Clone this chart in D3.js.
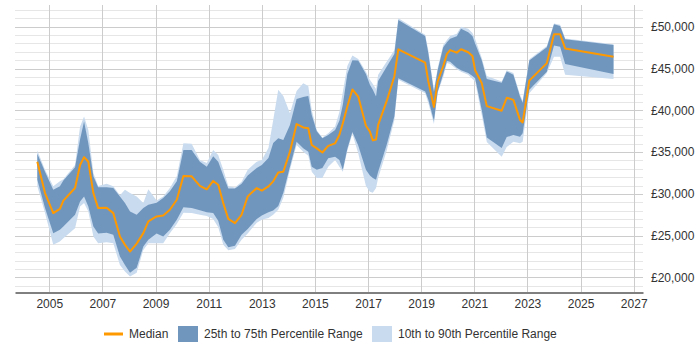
<!DOCTYPE html>
<html lang="en">
<head>
<meta charset="UTF-8">
<title>Salary percentiles</title>
<script src="https://cdn.jsdelivr.net/npm/d3@7/dist/d3.min.js"></script>
<style>
    body { margin: 0; background: #fff; }
    svg { font-family: "Liberation Sans", Arial, sans-serif; }
    .tick text { font-size: 12px; fill: #333; }
</style>
</head>
<body>
<svg id="chart" width="700" height="350"></svg>
<script>
    // decimal years of each sample
    var years = [
        2004.55, 2004.84, 2005.15, 2005.40, 2005.53, 2005.97, 2006.16, 2006.31, 2006.47, 2006.66,
        2006.84, 2007.16, 2007.41, 2007.66, 2007.85, 2008.04, 2008.29, 2008.54, 2008.73, 2009.04,
        2009.29, 2009.54, 2009.80, 2010.05, 2010.36, 2010.67, 2010.93, 2011.17, 2011.36, 2011.55,
        2011.74, 2011.99, 2012.24, 2012.47, 2012.81, 2013.00, 2013.25, 2013.43, 2013.62, 2013.81,
        2014.06, 2014.31, 2014.56, 2014.75, 2014.88, 2015.07, 2015.28, 2015.50, 2015.76, 2015.92,
        2016.05, 2016.22, 2016.41, 2016.63, 2016.92, 2017.07, 2017.18, 2017.30, 2017.38, 2017.70,
        2017.99, 2018.14, 2019.15, 2019.27, 2019.48, 2019.62, 2019.83, 2019.97, 2020.09, 2020.34,
        2020.50, 2020.77, 2020.93, 2021.03, 2021.28, 2021.47, 2022.03, 2022.22, 2022.47, 2022.72,
        2022.82, 2023.07, 2023.73, 2024.00, 2024.23, 2024.42, 2026.24
    ];
    var p90 = [
        35200, 32900, 30900, 31500, 31750, 33450, 38050, 39250, 37650, 32500,
        30950, 31200, 30900, 29850, 30500, 30100, 29700, 28900, 30550, 29200,
        29700, 30700, 32100, 36050, 36000, 34050, 33700, 35250, 34650, 32900,
        30950, 30750, 31450, 32900, 33850, 34050, 35500, 38850, 42450, 41700,
        39650, 42300, 43250, 42900, 40050, 37600, 36750, 37250, 38050, 39800,
        42200, 45300, 46550, 46150, 44600, 43650, 43150, 42550, 44250, 45800,
        47200, 51000, 49050, 47200, 42450, 45050, 47800, 48400, 48900, 49150,
        50000, 49750, 49250, 48550, 46250, 44100, 43450, 44800, 44450, 41850,
        41150, 46100, 47700, 50400, 50250, 48600, 47900
    ];
    var p75 = [
        34800, 32650, 30500, 30900, 31600, 33200, 36550, 38650, 36050, 32100,
        30800, 30800, 30700, 29700, 28900, 27900, 27500, 28300, 28700, 28950,
        29500, 30300, 31500, 35250, 35250, 33850, 33250, 34500, 33850, 32200,
        30650, 30650, 31200, 32200, 33100, 33450, 34300, 36100, 36650, 36450,
        38250, 41350, 41600, 41700, 39450, 37500, 36650, 37050, 37650, 38750,
        40650, 44350, 46000, 45950, 44350, 43050, 42450, 41650, 43500, 45200,
        46750, 50800, 48900, 46800, 42200, 44800, 47550, 48150, 48550, 48850,
        49750, 49350, 48900, 48000, 46000, 43750, 43300, 44650, 44250, 41650,
        40900, 45950, 47550, 50300, 50100, 48500, 47800
    ];
    var median = [
        33850, 30100, 27700, 28200, 29200, 30700, 33450, 34400, 33850, 30100,
        28300, 28350, 27700, 24900, 23900, 23100, 24050, 25300, 26700, 27300,
        27400, 28100, 29300, 32150, 32100, 30950, 30550, 31550, 31100, 28900,
        27000, 26500, 27500, 29700, 30700, 30400, 30900, 31500, 32550, 32650,
        35050, 38350, 37950, 37850, 35850, 35450, 34950, 35750, 36050, 37050,
        38450, 40450, 42500, 41650, 38150, 37450, 36400, 36500, 38250, 41100,
        44050, 47300, 45700, 43450, 40400, 43450, 45300, 46750, 47200, 46900,
        47300, 46950, 46500, 44800, 43250, 40500, 39950, 41500, 41250, 38850,
        38550, 43550, 45650, 49100, 49100, 47400, 46400
    ];
    var p25 = [
        31700, 28300, 25300, 25700, 26100, 27500, 29100, 29700, 28500, 26100,
        25250, 25350, 25100, 22500, 21500, 20550, 21150, 23700, 24500, 25250,
        24900, 25700, 26900, 28400, 28300, 28050, 27800, 27700, 26800, 24500,
        23600, 23800, 25100, 25800, 27000, 27400, 27800, 28000, 28550, 30150,
        33250, 36250, 35450, 35050, 33250, 32900, 33100, 34250, 34450, 34050,
        32900, 35400, 37400, 35800, 32900, 32200, 31900, 31700, 32650, 35850,
        39250, 43850, 42250, 41250, 38750, 42200, 44350, 45900, 45800, 45100,
        44800, 44450, 44100, 43850, 40050, 36750, 35500, 36800, 37050, 36850,
        37250, 42450, 44600, 47750, 47600, 45550, 44350
    ];
    var p10 = [
        30900, 27700, 23900, 24300, 24700, 25900, 28500, 28900, 27900, 24900,
        24100, 24200, 24100, 21500, 20700, 20100, 20550, 23300, 24100, 24100,
        24100, 25300, 26400, 27750, 27700, 27500, 27350, 27000, 26000, 23900,
        23250, 23400, 24500, 25250, 26550, 26900, 27100, 27500, 28100, 29550,
        32900, 35850, 35050, 34550, 32650, 31900, 31900, 33250, 34050, 33250,
        32650, 35150, 37200, 34850, 30950, 30250, 30150, 30700, 31900, 35150,
        38800, 43650, 42050, 40850, 38350, 42100, 44000, 45650, 45550, 44900,
        44600, 44250, 43750, 43450, 39450, 36200, 34450, 35600, 36250, 36050,
        36250, 42050, 44450, 46400, 46400, 44250, 43750
    ];
    var xTicks = [2005, 2007, 2009, 2011, 2013, 2015, 2017, 2019, 2021, 2023, 2025, 2027];
    var yTicks = [20000, 25000, 30000, 35000, 40000, 45000, 50000];
    var legendLabels = ["Median", "25th to 75th Percentile Range", "10th to 90th Percentile Range"];

    var colMedian = "#ff9900";
    var colInner = "#7096be";
    var colOuter = "#c9dbee";

    var svg = d3.select("#chart");
    var x = d3.scaleLinear().domain([2003.71, 2027.35]).range([15, 643]);
    var y = d3.scaleLinear().domain([18200, 52600]).range([292.5, 5]);

    var rows = years.map(function (yr, i) {
        return {t: yr, p10: p10[i], p25: p25[i], med: median[i], p75: p75[i], p90: p90[i]};
    });

    // grid
    var grid = svg.append("g");
    d3.range(19000, 52001, 1000).forEach(function (v) {
        grid.append("line")
            .attr("x1", 15).attr("x2", 643)
            .attr("y1", Math.round(y(v)) + 0.5).attr("y2", Math.round(y(v)) + 0.5)
            .attr("stroke", v % 5000 === 0 ? "#cccccc" : "#e6e6e6")
            .attr("stroke-width", 1);
    });
    xTicks.forEach(function (t) {
        grid.append("line")
            .attr("x1", Math.round(x(t)) + 0.5).attr("x2", Math.round(x(t)) + 0.5)
            .attr("y1", 5).attr("y2", 292)
            .attr("stroke", "#cccccc");
    });

    // bands
    var outer = d3.area().x(function (d) { return x(d.t); })
        .y0(function (d) { return y(d.p10); }).y1(function (d) { return y(d.p90); });
    var inner = d3.area().x(function (d) { return x(d.t); })
        .y0(function (d) { return y(d.p25); }).y1(function (d) { return y(d.p75); });
    var line = d3.line().x(function (d) { return x(d.t); }).y(function (d) { return y(d.med); });

    svg.append("path").datum(rows).attr("d", outer).attr("fill", colOuter);
    svg.append("path").datum(rows).attr("d", inner).attr("fill", colInner);
    svg.append("path").datum(rows).attr("d", line)
        .attr("fill", "none").attr("stroke", colMedian).attr("stroke-width", 2)
        .attr("stroke-linejoin", "round");

    // axes
    var xAxis = svg.append("g").attr("transform", "translate(0,292.5)")
        .call(d3.axisBottom(x).tickValues(xTicks).tickFormat(d3.format("d"))
            .tickSize(0).tickSizeOuter(0).tickPadding(7));
    xAxis.select(".domain").attr("stroke", "#000");

    var yAxis = svg.append("g").attr("transform", "translate(643,0)")
        .call(d3.axisRight(y).tickValues(yTicks)
            .tickFormat(function (d) { return "£" + d3.format(",")(d); })
            .tickSize(0).tickPadding(8));
    yAxis.select(".domain").remove();

    // legend
    var lg = svg.append("g").attr("font-size", 12).attr("fill", "#333");
    lg.append("line").attr("x1", 104).attr("x2", 123).attr("y1", 334).attr("y2", 334)
        .attr("stroke", colMedian).attr("stroke-width", 3);
    lg.append("text").attr("x", 129).attr("y", 338).text(legendLabels[0]);
    lg.append("rect").attr("x", 178).attr("y", 326).attr("width", 20).attr("height", 16)
        .attr("fill", colInner);
    lg.append("text").attr("x", 204).attr("y", 338).text(legendLabels[1]);
    lg.append("rect").attr("x", 372).attr("y", 326).attr("width", 20).attr("height", 16)
        .attr("fill", colOuter);
    lg.append("text").attr("x", 398).attr("y", 338).text(legendLabels[2]);
</script>
</body>
</html>
